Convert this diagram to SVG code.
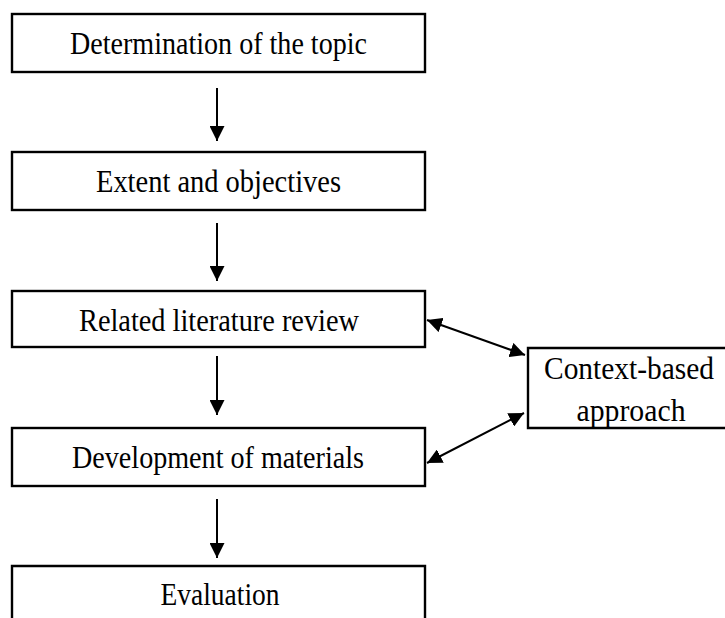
<svg xmlns="http://www.w3.org/2000/svg" width="725" height="618" viewBox="0 0 725 618">
<style>
.box{fill:#fff;stroke:#000;stroke-width:2.4}
.lbl{font-family:"Liberation Serif","DejaVu Serif","Times New Roman",serif;font-size:32px;fill:#000;text-anchor:middle}
.con{stroke:#000;stroke-width:2;fill:none}
</style>
<defs>
<marker id="ah" markerUnits="userSpaceOnUse" markerWidth="17" markerHeight="15" refX="15" refY="7.5" orient="auto-start-reverse">
<path d="M0,0 L15,7.5 L0,15 Z" fill="#000"/>
</marker>
</defs>
<rect width="725" height="618" fill="#fff"/>
<g id="n1"><rect class="box" x="12" y="14" width="413" height="58"/><text class="lbl" x="218.5" y="54" textLength="297" lengthAdjust="spacingAndGlyphs">Determination of the topic</text></g>
<g id="n2"><rect class="box" x="12" y="152" width="413" height="58"/><text class="lbl" x="218.5" y="192" textLength="245" lengthAdjust="spacingAndGlyphs">Extent and objectives</text></g>
<g id="n3"><rect class="box" x="12" y="291" width="413" height="56"/><text class="lbl" x="219" y="331" textLength="280" lengthAdjust="spacingAndGlyphs">Related literature review</text></g>
<g id="n4"><rect class="box" x="12" y="428" width="413" height="58"/><text class="lbl" x="218" y="468" textLength="292" lengthAdjust="spacingAndGlyphs">Development of materials</text></g>
<g id="n5"><path class="box" d="M12,625 V566 H425 V625"/><text class="lbl" x="220" y="605" textLength="119" lengthAdjust="spacingAndGlyphs">Evaluation</text></g>
<g id="n6"><path class="box" d="M730,348 H528 V428 H730"/><text class="lbl" x="629" y="379" textLength="170" lengthAdjust="spacingAndGlyphs">Context-based</text><text class="lbl" x="631" y="421" textLength="109" lengthAdjust="spacingAndGlyphs">approach</text></g>
<g id="connectors">
<line class="con" x1="217" y1="88" x2="217" y2="141" marker-end="url(#ah)"/>
<line class="con" x1="217" y1="223" x2="217" y2="281" marker-end="url(#ah)"/>
<line class="con" x1="217" y1="356" x2="217" y2="415" marker-end="url(#ah)"/>
<line class="con" x1="217" y1="499" x2="217" y2="558" marker-end="url(#ah)"/>
<line class="con" x1="427" y1="320" x2="525" y2="355" marker-start="url(#ah)" marker-end="url(#ah)"/>
<line class="con" x1="427" y1="463" x2="524" y2="413" marker-start="url(#ah)" marker-end="url(#ah)"/>
</g>
</svg>
